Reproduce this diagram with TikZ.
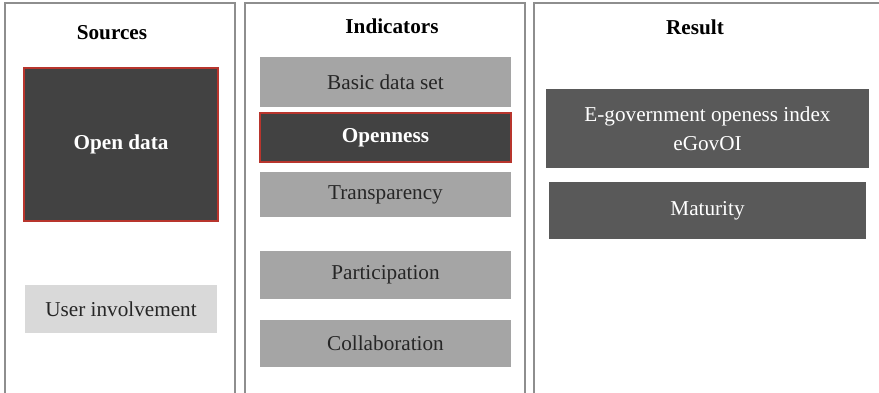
\documentclass[tikz,border=0pt]{standalone}
\usepackage{fontspec}
\setmainfont{Liberation Serif}
\usepackage{tikz}
\usetikzlibrary{positioning}
\definecolor{frame}{HTML}{8E8E8E}
\definecolor{darkcell}{HTML}{424242}
\definecolor{midcell}{HTML}{595959}
\definecolor{greycell}{HTML}{A5A5A5}
\definecolor{lightcell}{HTML}{D9D9D9}
\definecolor{accent}{HTML}{B8352D}
\definecolor{ink}{HTML}{262626}

\begin{document}
\begin{tikzpicture}[x=0.5pt,y=-0.5pt,font=\fontsize{10.6}{14.5}\selectfont,
 column/.style={draw=frame,line width=1pt},
 title/.style={font=\fontsize{10.6}{14.5}\selectfont\bfseries,text=black},
 cell/.style={inner sep=0pt,align=center,text=ink},
 key/.style={cell,fill=darkcell,draw=accent,line width=1.1pt,text=white,font=\fontsize{10.6}{14.5}\selectfont\bfseries},
 indicator/.style={cell,fill=greycell,minimum width=125.5pt},
 outcome/.style={cell,fill=midcell,text=white}]
\useasboundingbox (0,0) rectangle (879,392);
\clip (0,0) rectangle (879,392);
% three columns
\draw[column] (5,3) rectangle (235,396);
\draw[column] (245,3) rectangle (525,396);
\draw[column] (534,3) rectangle (886,396);
\node[title] (sources) at (112,33) {Sources};
\node[title] (indicators) at (392,26) {Indicators};
\node[title] (result) at (695,27) {Result};
% sources
\node[key,minimum width=97pt,minimum height=76.5pt] (opendata) at (121,144.5) {Open data};
\node[cell,fill=lightcell,minimum width=96pt,minimum height=24pt] (users) at (121,309) {User involvement};
% indicators
\node[indicator,minimum height=25pt] (basic) at (385.5,82) {Basic data set};
\node[key,minimum width=125.5pt,minimum height=24.5pt] (openness) at (385.5,137.5) {Openness};
\node[indicator,minimum height=22.5pt] (transparency) at (385.5,194.5) {Transparency};
\node[indicator,minimum height=24pt] (participation) at (385.5,275) {Participation};
\node[indicator,minimum height=23.5pt] (collaboration) at (385.5,343.5) {Collaboration};
% result
\node[outcome,minimum width=161.5pt,minimum height=39.5pt] (index) at (707.5,128.5) {E-government openess index\\eGovOI};
\node[outcome,minimum width=158.5pt,minimum height=28.5pt] (maturity) at (707.5,210.5) {Maturity};
\end{tikzpicture}
\end{document}
